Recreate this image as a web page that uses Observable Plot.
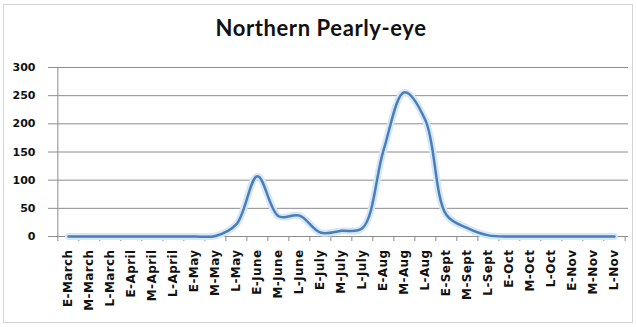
<!DOCTYPE html>
<html><head><meta charset="utf-8">
<script src="https://cdn.jsdelivr.net/npm/d3@7"></script>
<script src="https://cdn.jsdelivr.net/npm/@observablehq/plot@0.6"></script>
<style>
body{margin:0;background:#fff;}
#wrap{position:relative;width:637px;height:327px;overflow:hidden;background:#fff}
#frame{position:absolute;left:3px;top:4px;width:628px;height:317px;border:1px solid #d4d4d4;}
#title{position:absolute;left:0;width:642px;top:17px;text-align:center;font:bold 22px Lato, sans-serif;letter-spacing:0.6px;color:#111;line-height:1}
#chart{position:absolute;left:0;top:45px}
.pe g[aria-label="x-axis tick label"] text{letter-spacing:0.4px}
</style></head><body>
<div id="wrap"><div id="frame"></div><div id="title">Northern Pearly-eye</div><div id="chart"></div></div>
<script>
const periods = ["E-March","M-March","L-March","E-April","M-April","L-April","E-May","M-May","L-May","E-June","M-June","L-June","E-July","M-July","L-July","E-Aug","M-Aug","L-Aug","E-Sept","M-Sept","L-Sept","E-Oct","M-Oct","L-Oct","E-Nov","M-Nov","L-Nov"];
const counts = [0,0,0,0,0,0,0,1,22,107,36,37,7,10,15,153,256,206,38,15,2,0,0,0,0,0,0];
const yTicks = [0,50,100,150,200,250,300];

const data = periods.map((p,i)=>({period:p,count:counts[i]}));
const W=637,H=282,mL=53,mR=9;
const step=(W-mL-mR)/periods.length;
const grey="#8c8c8c";
const plot = Plot.plot({
  width:W,height:H,marginLeft:mL,marginRight:mR,marginTop:22,marginBottom:91,
  className:"pe",
  style:{fontFamily:"'DejaVu Sans', sans-serif",fontWeight:"bold",fontSize:"11px",color:"#111",background:"transparent",overflow:"visible"},
  x:{type:"point",domain:periods,padding:0.5,align:0.5},
  y:{domain:[0,300]},
  marks:[
    Plot.gridY(yTicks,{stroke:grey,strokeOpacity:1,strokeWidth:1}),
    Plot.axisY(yTicks,{tickSize:5,tickPadding:13,stroke:grey,label:null,fontSize:11,fontWeight:"bold"}),
    Plot.ruleX([periods[0]],{dx:-step/2,y1:0,y2:300,stroke:grey}),
    Plot.ruleY([0],{stroke:grey}),
    Plot.ruleX(periods,{x:d=>d,dx:-step/2,y1:0,y2:-9,stroke:grey}),
    Plot.ruleX([periods[periods.length-1]],{x:d=>d,dx:step/2,y1:0,y2:-9,stroke:grey}),
    Plot.axisX({tickSize:0,tickRotate:-90,tickPadding:13,label:null,fontSize:12,fontWeight:"bold"}),
    Plot.line(data,{x:"period",y:"count",curve:"catmull-rom",stroke:"#d6e7f7",strokeWidth:7}),
    Plot.line(data,{x:"period",y:"count",curve:"catmull-rom",stroke:"#4a7ebb",strokeWidth:2.5})
  ]
});
document.getElementById("chart").appendChild(plot);
</script>
</body></html>
